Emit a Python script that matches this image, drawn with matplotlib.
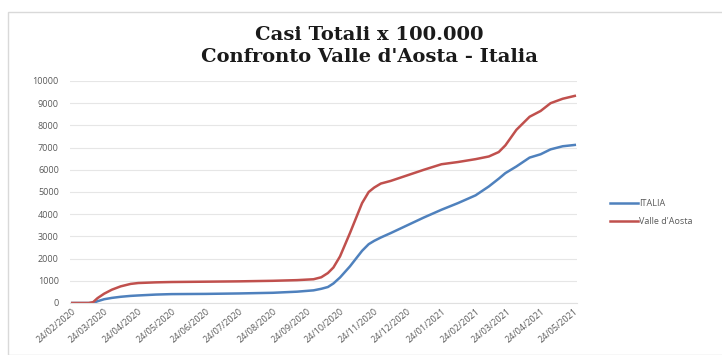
import pandas as pd
import matplotlib
matplotlib.use('Agg')
import matplotlib.pyplot as plt
from matplotlib.patches import Rectangle

# cumulative cases per 100.000 inhabitants
dates = ['2020-02-24', '2020-03-10', '2020-03-14', '2020-03-18', '2020-03-24',
         '2020-03-31', '2020-04-08', '2020-04-17', '2020-04-24', '2020-05-10',
         '2020-05-24', '2020-06-24', '2020-07-24', '2020-08-24', '2020-09-15',
         '2020-09-30', '2020-10-07', '2020-10-13', '2020-10-18', '2020-10-24',
         '2020-11-02', '2020-11-13', '2020-11-19', '2020-11-24', '2020-11-30',
         '2020-12-09', '2020-12-24', '2021-01-08', '2021-01-24', '2021-02-08',
         '2021-02-24', '2021-03-08', '2021-03-17', '2021-03-23', '2021-04-02',
         '2021-04-14', '2021-04-24', '2021-05-03', '2021-05-14', '2021-05-25']

italia = [0, 0, 0, 80, 170, 230, 280, 320, 340, 380,
          400, 410, 430, 460, 510, 570, 640, 720, 880, 1150,
          1650, 2350, 2650, 2800, 2950, 3150, 3500, 3850, 4200, 4500,
          4850, 5250, 5600, 5850, 6150, 6550, 6700, 6920, 7060, 7120]

vda = [0, 0, 40, 220, 420, 600, 750, 860, 900, 930,
       945, 960, 975, 1000, 1030, 1070, 1160, 1350, 1600, 2100,
       3150, 4500, 5000, 5200, 5380, 5500, 5750, 6000, 6250, 6350,
       6480, 6600, 6800, 7100, 7800, 8390, 8650, 9000, 9200, 9330]

tick_dates = pd.date_range('2020-02-01', '2021-05-01', freq='MS') + pd.Timedelta(days=23)
y_ticks = list(range(0, 10001, 1000))

x = pd.to_datetime(dates)

fig = plt.figure(figsize=(7.22, 3.55), dpi=100)
fig.patches.append(Rectangle((8 / 722, 0), 1, 1 - 12 / 355, transform=fig.transFigure,
                             fill=False, edgecolor='#d9d9d9', linewidth=1))

ax = fig.add_axes([70 / 722, 1 - 303 / 355, 507 / 722, 222 / 355])
ax.plot(x, italia, color='#4f81bd', linewidth=1.8, label='ITALIA')
ax.plot(x, vda, color='#c0504d', linewidth=1.8, label="Valle d'Aosta")

ax.set_ylim(0, 10000)
ax.set_yticks(y_ticks)
ax.set_xlim(pd.Timestamp('2020-02-22'), pd.Timestamp('2021-05-27'))
ax.set_xticks(tick_dates)
ax.set_xticklabels([d.strftime('%d/%m/%Y') for d in tick_dates],
                   rotation=40, ha='right', rotation_mode='anchor')
ax.tick_params(axis='both', length=0, labelsize=6.5, labelcolor='#595959')
ax.tick_params(axis='x', pad=3)
ax.tick_params(axis='y', pad=8)
for lab in ax.get_xticklabels() + ax.get_yticklabels():
    lab.set_fontfamily('Open Sans')

ax.grid(axis='y', color='#e6e6e6', linewidth=0.8)
ax.set_axisbelow(True)
for s in ['top', 'right', 'left']:
    ax.spines[s].set_visible(False)
ax.spines['bottom'].set_color('#e0e0e0')

fig.text(0.512, 1 - 35 / 355, 'Casi Totali x 100.000', ha='center', va='center',
         fontsize=14, fontweight='bold', family='DejaVu Serif', color='#1a1a1a')
fig.text(0.512, 1 - 57 / 355, "Confronto Valle d'Aosta - Italia", ha='center', va='center',
         fontsize=14, fontweight='bold', family='DejaVu Serif', color='#1a1a1a')

leg = ax.legend(loc='center left', bbox_to_anchor=(1.05, 0.408), frameon=False,
                prop={'family': 'Open Sans', 'size': 6.5}, handlelength=3.0,
                handletextpad=0.2, labelspacing=1.0)
for t in leg.get_texts():
    t.set_color('#595959')

fig.savefig('out.png', dpi=100)
